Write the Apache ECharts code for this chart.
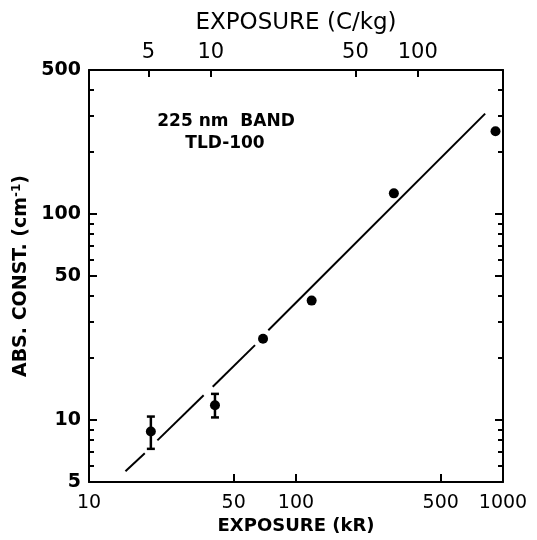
<!DOCTYPE html>
<html><head><meta charset="utf-8">
<script src="https://cdn.jsdelivr.net/npm/echarts@6/dist/echarts.min.js"></script>
<style>html,body{margin:0;padding:0;background:#fff}#c{width:537px;height:540px}</style>
</head><body><div id="c"></div>
<script>
// ---- data ----
const KR_PER_CKG = 3.876;               // 1 C/kg = 3.876 kR
const exposureKR = [19.9, 40.6, 69.3, 119, 297, 920];
const absConst   = [8.8, 11.8, 24.8, 38.0, 126, 252];
const errBars    = [[19.9, 7.25, 10.4], [40.6, 10.3, 13.4]]; // [x, low, high]
const fitSegments = [
  [[15.0, 5.65], [18.6, 6.90]],
  [[21.4, 7.97], [35.8, 13.2]],
  [[39.6, 14.5], [63.4, 23.1]],
  [[73.5, 27.3], [820, 307]]
];
const xLabelsKR   = [10, 50, 100, 500, 1000];
const xMajorTicks = [50, 100, 500];
const topLabelsCkg = [5, 10, 50, 100];
const yLabels     = [5, 10, 50, 100, 500];
const yMajorTicks = [10, 50, 100];
const yMinorTicks = [6, 7, 8, 9, 20, 30, 40, 60, 70, 80, 90, 200, 300, 400];

const FONT = 'DejaVu Sans';
const scatterData = exposureKR.map((x, i) => [x, absConst[i]]);
const plainNum = v => String(Math.round(v));

function hiddenAxisBase() {
  return { axisLine: { show: false }, axisLabel: { show: false }, splitLine: { show: false }, minorTick: { show: false } };
}

const chart = echarts.init(document.getElementById('c'), null, { renderer: 'canvas' });
const option = {
  animation: false,
  backgroundColor: '#fff',
  grid: { left: 89, right: 34, top: 70, bottom: 56, containLabel: false },
  xAxis: [
    {
      type: 'log', logBase: 10, position: 'bottom', min: 10, max: 1000,
      name: 'EXPOSURE (kR)', nameLocation: 'middle', nameGap: 29,
      nameTextStyle: { fontFamily: FONT, fontWeight: 'bold', fontSize: 18, color: '#000' },
      axisLine: { show: true, onZero: false, lineStyle: { color: '#000', width: 2 } },
      axisTick: { show: true, inside: true, length: 8, customValues: xMajorTicks, lineStyle: { color: '#000', width: 2 } },
      axisLabel: { show: true, customValues: xLabelsKR, formatter: plainNum, margin: 11, fontFamily: FONT, fontSize: 19, color: '#000' },
      splitLine: { show: false }
    },
    {
      type: 'log', logBase: 10, position: 'top',
      min: 10 / KR_PER_CKG, max: 1000 / KR_PER_CKG,
      name: 'EXPOSURE (C/kg)', nameLocation: 'middle', nameGap: 35,
      nameTextStyle: { fontFamily: FONT, fontWeight: 'normal', fontSize: 23, color: '#000' },
      axisLine: { show: true, onZero: false, lineStyle: { color: '#000', width: 2 } },
      axisTick: { show: true, inside: true, length: 7, customValues: topLabelsCkg, lineStyle: { color: '#000', width: 2 } },
      axisLabel: { show: true, customValues: topLabelsCkg, formatter: plainNum, margin: 7, fontFamily: FONT, fontSize: 21, color: '#000' },
      splitLine: { show: false }
    }
  ],
  yAxis: [
    {
      type: 'log', logBase: 10, position: 'left', min: 5, max: 500,
      name: 'ABS. CONST. (cm{sup|-1})', nameLocation: 'middle', nameRotate: 90, nameGap: 52,
      nameTextStyle: { fontFamily: FONT, fontWeight: 'bold', fontSize: 19, color: '#000',
        rich: { sup: { fontFamily: FONT, fontWeight: 'bold', fontSize: 12, color: '#000', verticalAlign: 'top', padding: [0, 0, 9, 0] } } },
      axisLine: { show: true, onZero: false, lineStyle: { color: '#000', width: 2 } },
      axisTick: { show: true, inside: true, length: 8, customValues: yMajorTicks, lineStyle: { color: '#000', width: 2 } },
      axisLabel: { show: true, customValues: yLabels, formatter: plainNum, margin: 8, fontFamily: FONT, fontWeight: 'bold', fontSize: 19, color: '#000' },
      splitLine: { show: false }
    },
    Object.assign(hiddenAxisBase(), {
      type: 'log', logBase: 10, position: 'left', min: 5, max: 500,
      axisTick: { show: true, inside: true, length: 5, customValues: yMinorTicks, lineStyle: { color: '#000', width: 2 } }
    }),
    {
      type: 'log', logBase: 10, position: 'right', min: 5, max: 500,
      axisLine: { show: true, onZero: false, lineStyle: { color: '#000', width: 2 } },
      axisTick: { show: true, inside: true, length: 8, customValues: yMajorTicks, lineStyle: { color: '#000', width: 2 } },
      axisLabel: { show: false }, splitLine: { show: false }
    },
    Object.assign(hiddenAxisBase(), {
      type: 'log', logBase: 10, position: 'right', min: 5, max: 500,
      axisTick: { show: true, inside: true, length: 5, customValues: yMinorTicks, lineStyle: { color: '#000', width: 2 } }
    })
  ],
  graphic: [
    { type: 'text', x: 226, y: 113, style: { text: '225 nm  BAND', textAlign: 'center', fontFamily: FONT, fontWeight: 'bold', fontSize: 17, fill: '#000' } },
    { type: 'text', x: 225, y: 135, style: { text: 'TLD-100', textAlign: 'center', fontFamily: FONT, fontWeight: 'bold', fontSize: 17, fill: '#000' } }
  ],
  series: [
    ...fitSegments.map(seg => ({
      type: 'line', xAxisIndex: 0, yAxisIndex: 0, data: seg, showSymbol: false, silent: true,
      lineStyle: { color: '#000', width: 2, opacity: 1 }
    })),
    {
      type: 'custom', xAxisIndex: 0, yAxisIndex: 0, data: errBars,
      encode: { x: 0, y: [1, 2] },
      renderItem: function (params, api) {
        const x = api.value(0);
        const lo = api.coord([x, api.value(1)]);
        const hi = api.coord([x, api.value(2)]);
        const w = 4;
        const st = { stroke: '#000', lineWidth: 2.5 };
        return { type: 'group', children: [
          { type: 'line', shape: { x1: lo[0], y1: lo[1], x2: hi[0], y2: hi[1] }, style: st },
          { type: 'line', shape: { x1: lo[0] - w, y1: lo[1], x2: lo[0] + w, y2: lo[1] }, style: st },
          { type: 'line', shape: { x1: hi[0] - w, y1: hi[1], x2: hi[0] + w, y2: hi[1] }, style: st }
        ] };
      }
    },
    {
      type: 'scatter', xAxisIndex: 0, yAxisIndex: 0, data: scatterData,
      symbol: 'circle', symbolSize: 10, itemStyle: { color: '#000', opacity: 1 }
    }
  ]
};
chart.setOption(option);
</script>
</body></html>
